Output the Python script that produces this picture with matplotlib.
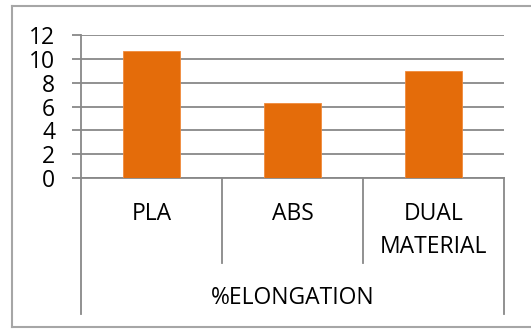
import matplotlib
matplotlib.use("Agg")
import matplotlib.pyplot as plt
from matplotlib.lines import Line2D
import matplotlib.transforms as mtransforms

categories = ["PLA", "ABS", "DUAL\nMATERIAL"]
elongation = [10.68, 6.27, 8.95]
group_label = "%ELONGATION"
y_ticks = [0, 2, 4, 6, 8, 10, 12]

W, H = 531, 329
plt.rcParams["font.family"] = ["Open Sans", "DejaVu Sans"]

fig = plt.figure(figsize=(W / 100, H / 100), dpi=100)
fig.patch.set_facecolor("white")

grid_col = "#888888"
border_col = "#a6a6a6"
bar_col = "#E46C0A"
fs = 16.5

# plot area in pixels
left_px, right_px, top_px, bottom_px = 81, 504, 35, 178
ax = fig.add_axes([left_px / W, 1 - bottom_px / H,
                   (right_px - left_px) / W, (bottom_px - top_px) / H])

x = list(range(len(categories)))
ax.bar(x, elongation, width=0.4, color=bar_col, edgecolor="#F08A3C",
       linewidth=0.6, zorder=3)

ax.set_xlim(-0.5, len(categories) - 0.5)
ax.set_ylim(0, 12)
ax.set_yticks(y_ticks)
ax.set_yticklabels([str(t) for t in y_ticks], fontsize=fs, color="black")
ax.tick_params(axis="y", length=6.5, width=1.3, color=grid_col, pad=12)
ax.tick_params(axis="x", bottom=False, labelbottom=False)
ax.yaxis.grid(True, color=grid_col, linewidth=1.3, zorder=0)
ax.set_axisbelow(True)
for s in ["top", "right"]:
    ax.spines[s].set_visible(False)
ax.spines["left"].set_color(grid_col)
ax.spines["left"].set_linewidth(1.3)
ax.spines["bottom"].set_color(grid_col)
ax.spines["bottom"].set_linewidth(1.3)

# category separators below the axis
trans = mtransforms.blended_transform_factory(ax.transData, ax.transAxes)
span = bottom_px - top_px


def ay(ypx):
    return -(ypx - bottom_px) / span


inner_end = ay(263)
outer_end = ay(314)
n = len(categories)
for i in range(n + 1):
    xs = i - 0.5
    yend = outer_end if i in (0, n) else inner_end
    ax.add_line(Line2D([xs, xs], [0, yend], transform=trans, color=grid_col,
                       linewidth=1.3, clip_on=False))

# category labels, one text per line, first line aligned across categories
first_line_px, line_step_px = 214, 33
for xi, lab in zip(x, categories):
    for k, line in enumerate(lab.split("\n")):
        ax.text(xi, ay(first_line_px + k * line_step_px), line,
                transform=trans, ha="center", va="center", fontsize=fs)

ax.text((n - 1) / 2, ay(298.5), group_label, transform=trans,
        ha="center", va="center", fontsize=fs)

# chart frame
def px(xp, yp):
    return xp / W, 1 - yp / H


for (x0, y0), (x1, y1) in [((11.5, 5.5), (531, 5.5)),
                           ((11.5, 5.5), (11.5, 327)),
                           ((11.5, 327), (531, 327))]:
    a, b = px(x0, y0)
    c, d = px(x1, y1)
    fig.add_artist(Line2D([a, c], [b, d], transform=fig.transFigure,
                          color=border_col, linewidth=1.5))

fig.savefig("out.png", dpi=100)
